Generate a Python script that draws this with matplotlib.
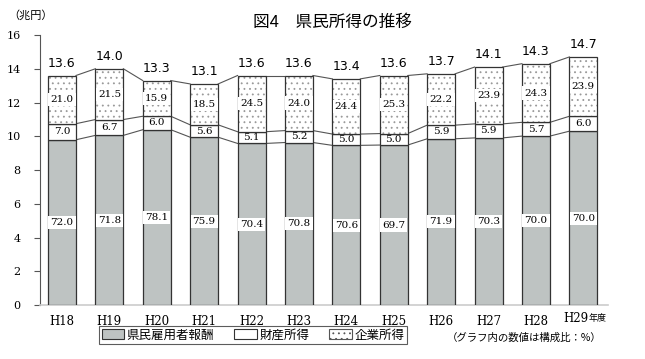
import matplotlib
matplotlib.use("Agg")
import matplotlib.pyplot as plt
from matplotlib.patches import Patch
import numpy as np

plt.rcParams['font.family'] = ['Noto Sans CJK JP', 'DejaVu Sans']
plt.rcParams['hatch.linewidth'] = 0.6

years = ['H18', 'H19', 'H20', 'H21', 'H22', 'H23', 'H24', 'H25', 'H26', 'H27', 'H28', 'H29']
totals = [13.6, 14.0, 13.3, 13.1, 13.6, 13.6, 13.4, 13.6, 13.7, 14.1, 14.3, 14.7]
emp_pct = [72.0, 71.8, 78.1, 75.9, 70.4, 70.8, 70.6, 69.7, 71.9, 70.3, 70.0, 70.0]
prop_pct = [7.0, 6.7, 6.0, 5.6, 5.1, 5.2, 5.0, 5.0, 5.9, 5.9, 5.7, 6.0]
corp_pct = [21.0, 21.5, 15.9, 18.5, 24.5, 24.0, 24.4, 25.3, 22.2, 23.9, 24.3, 23.9]
series_names = ['県民雇用者報酬', '財産所得', '企業所得']

tot = np.array(totals)
e = np.array(emp_pct); p = np.array(prop_pct); c = np.array(corp_pct)
s = e + p + c
emp = tot * e / s
prop = tot * p / s
corp = tot * c / s

fig = plt.figure(figsize=(6.45, 3.59), dpi=100)
ax = fig.add_axes([0.062, 0.1504, 0.8806, 0.7521])

x = np.arange(len(years))
w = 0.59
gray = '#bec3c2'
edge = '#333333'

ax.bar(x, emp, w, color=gray, edgecolor=edge, linewidth=0.9, zorder=3)
ax.bar(x, prop, w, bottom=emp, color='white', edgecolor=edge, linewidth=0.9, zorder=3)
ax.bar(x, corp, w, bottom=emp + prop, color='white', edgecolor='#999999', hatch='...', linewidth=0, zorder=3)
ax.bar(x, corp, w, bottom=emp + prop, color='none', edgecolor=edge, linewidth=0.9, zorder=4)

# connecting lines
for lev in [emp, emp + prop, tot]:
    for i in range(len(x) - 1):
        ax.plot([x[i] + w / 2, x[i + 1] - w / 2], [lev[i], lev[i + 1]], color='#555555', lw=0.8, zorder=2)

box = dict(boxstyle='square,pad=0.2', facecolor='white', edgecolor='none')
for i in range(len(x)):
    ax.text(x[i], emp[i] / 2, f'{emp_pct[i]:.1f}', ha='center', va='center', fontsize=7.5,
            family='DejaVu Serif', bbox=box, zorder=5)
    ax.text(x[i], emp[i] + prop[i] / 2, f'{prop_pct[i]:.1f}', ha='center', va='center', fontsize=7.5,
            family='DejaVu Serif', zorder=5)
    ax.text(x[i], emp[i] + prop[i] + corp[i] / 2, f'{corp_pct[i]:.1f}', ha='center', va='center', fontsize=7.5,
            family='DejaVu Serif', bbox=box, zorder=5)
    ax.text(x[i], tot[i] + 0.35, f'{totals[i]:.1f}', ha='center', va='bottom', fontsize=9,
            family='DejaVu Sans', zorder=5)

ax.set_xlim(-0.464, 11.52)
ax.set_ylim(0, 16)
ax.set_yticks(range(0, 17, 2))
ax.set_yticklabels([str(v) for v in range(0, 17, 2)], family='DejaVu Serif', fontsize=8)
ax.set_xticks(x)
labels = years[:-1] + ['']
ax.set_xticklabels(labels, family='DejaVu Serif', fontsize=8.5)
ax.tick_params(axis='x', length=0, pad=7)
ax.tick_params(axis='y', length=4, direction='out', color='#555555', pad=10)
for sp in ['top', 'right']:
    ax.spines[sp].set_visible(False)
ax.spines['left'].set_color('#555555')
ax.spines['bottom'].set_color('#cccccc')
ax.spines['bottom'].set_linewidth(1.2)

# last tick label with small 年度
fig.text(588 / 645, 1 - 318 / 359, 'H29', ha='right', va='center', fontsize=8.5, family='DejaVu Serif')
fig.text(589 / 645, 1 - 318 / 359, '年度', ha='left', va='center', fontsize=6.5)

fig.text(332 / 645, 1 - 22 / 359, '図4\u3000県民所得の推移', ha='center', va='center', fontsize=12)
fig.text(8 / 645, 1 - 15 / 359, '（兆円）', ha='left', va='center', fontsize=8)
fig.text(524 / 645, 1 - 338 / 359, '（グラフ内の数値は構成比：%）', ha='center', va='center', fontsize=7.5)

handles = [Patch(facecolor=gray, edgecolor=edge, lw=0.8),
           Patch(facecolor='white', edgecolor=edge, lw=0.8),
           Patch(facecolor='white', edgecolor='#555555', hatch='...', lw=0.8)]
leg = fig.legend(handles, series_names, loc='center', bbox_to_anchor=(253 / 645, 1 - 335 / 359),
                 ncol=3, fontsize=9, frameon=True, fancybox=False, edgecolor='#333333',
                 handlelength=1.8, handleheight=0.8, handletextpad=0.2, columnspacing=1.6,
                 borderpad=0.2, borderaxespad=0)
leg.get_frame().set_linewidth(0.8)

fig.savefig('out.png', dpi=100, facecolor='white')
